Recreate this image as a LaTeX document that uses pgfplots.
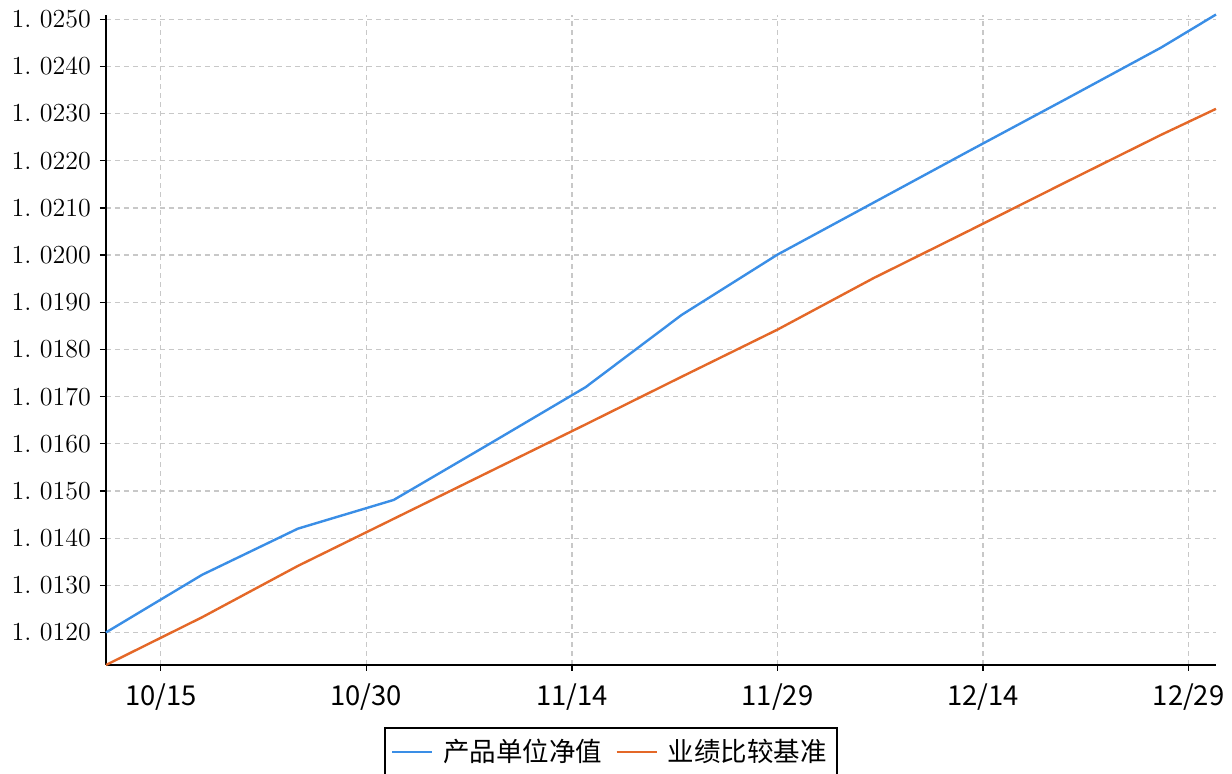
\documentclass[border=0pt]{standalone}
\usepackage{fontspec}
\usepackage{pgfplots}
\pgfplotsset{compat=1.18}
\newfontfamily\cjk{Noto Sans CJK SC}
\definecolor{navblue}{RGB}{58,142,230}
\definecolor{benchorange}{RGB}{228,104,40}
\definecolor{gridgray}{RGB}{200,200,200}

% day 0 = 10/15
\pgfplotstableread{
day nav bench
-4 1.01200 1.01131
3  1.01322 1.01232
10 1.01420 1.01341
17 1.01481 1.01441
24 1.01600 1.01541
31 1.01720 1.01641
38 1.01873 1.01742
45 1.02001 1.01842
52 1.02111 1.01951
59 1.02221 1.02052
66 1.02330 1.02154
73 1.02440 1.02255
77 1.02510 1.02310
}\navdata

\begin{document}
\begin{tikzpicture}
\begin{axis}[
    at={(0,0)}, anchor=south west,
    scale only axis,
    width=555pt, height=325pt,
    xmin=-4, xmax=77,
    ymin=1.01131, ymax=1.02509,
    axis x line=bottom, axis y line=left,
    axis line style={-, line width=0.7pt, black},
    tick align=outside,
    major tick length=3pt,
    tick style={black, line width=0.6pt},
    xtick={0,15,30,45,60,75},
    xticklabels={10/15,10/30,11/14,11/29,12/14,12/29},
    xticklabel style={font=\cjk\fontsize{13.7}{16}\selectfont, yshift=-3pt},
    ytick={1.012,1.013,1.014,1.015,1.016,1.017,1.018,1.019,1.020,1.021,1.022,1.023,1.024,1.025},
    yticklabels={1.\ 0120,1.\ 0130,1.\ 0140,1.\ 0150,1.\ 0160,1.\ 0170,1.\ 0180,1.\ 0190,1.\ 0200,1.\ 0210,1.\ 0220,1.\ 0230,1.\ 0240,1.\ 0250},
    yticklabel style={font=\fontsize{13}{15}\selectfont, xshift=-1pt},
    grid=major,
    major grid style={gridgray, line width=0.6pt, dash pattern=on 2.5pt off 2pt},
    clip=false,
    legend columns=2,
    legend image code/.code={\draw[#1] (0pt,0pt) -- (20pt,0pt);},
    legend style={
        at={(0.2505,-0.0954)}, anchor=north west,
        draw=black, line width=1pt,
        font=\cjk\fontsize{13.25}{16}\selectfont,
        inner xsep=3pt, inner ysep=3.5pt,
        /tikz/every odd column/.append style={column sep=3pt},
        /tikz/every even column/.append style={column sep=4.5pt},
    },
]
\addplot[navblue, line width=1.2pt] table[x=day, y=nav] {\navdata};
\addplot[benchorange, line width=1.2pt] table[x=day, y=bench] {\navdata};
\legend{产品单位净值, 业绩比较基准}
\end{axis}
\pgfresetboundingbox
\useasboundingbox (-53pt,-54.5pt) rectangle (563pt,332.5pt);
\end{tikzpicture}
\end{document}
